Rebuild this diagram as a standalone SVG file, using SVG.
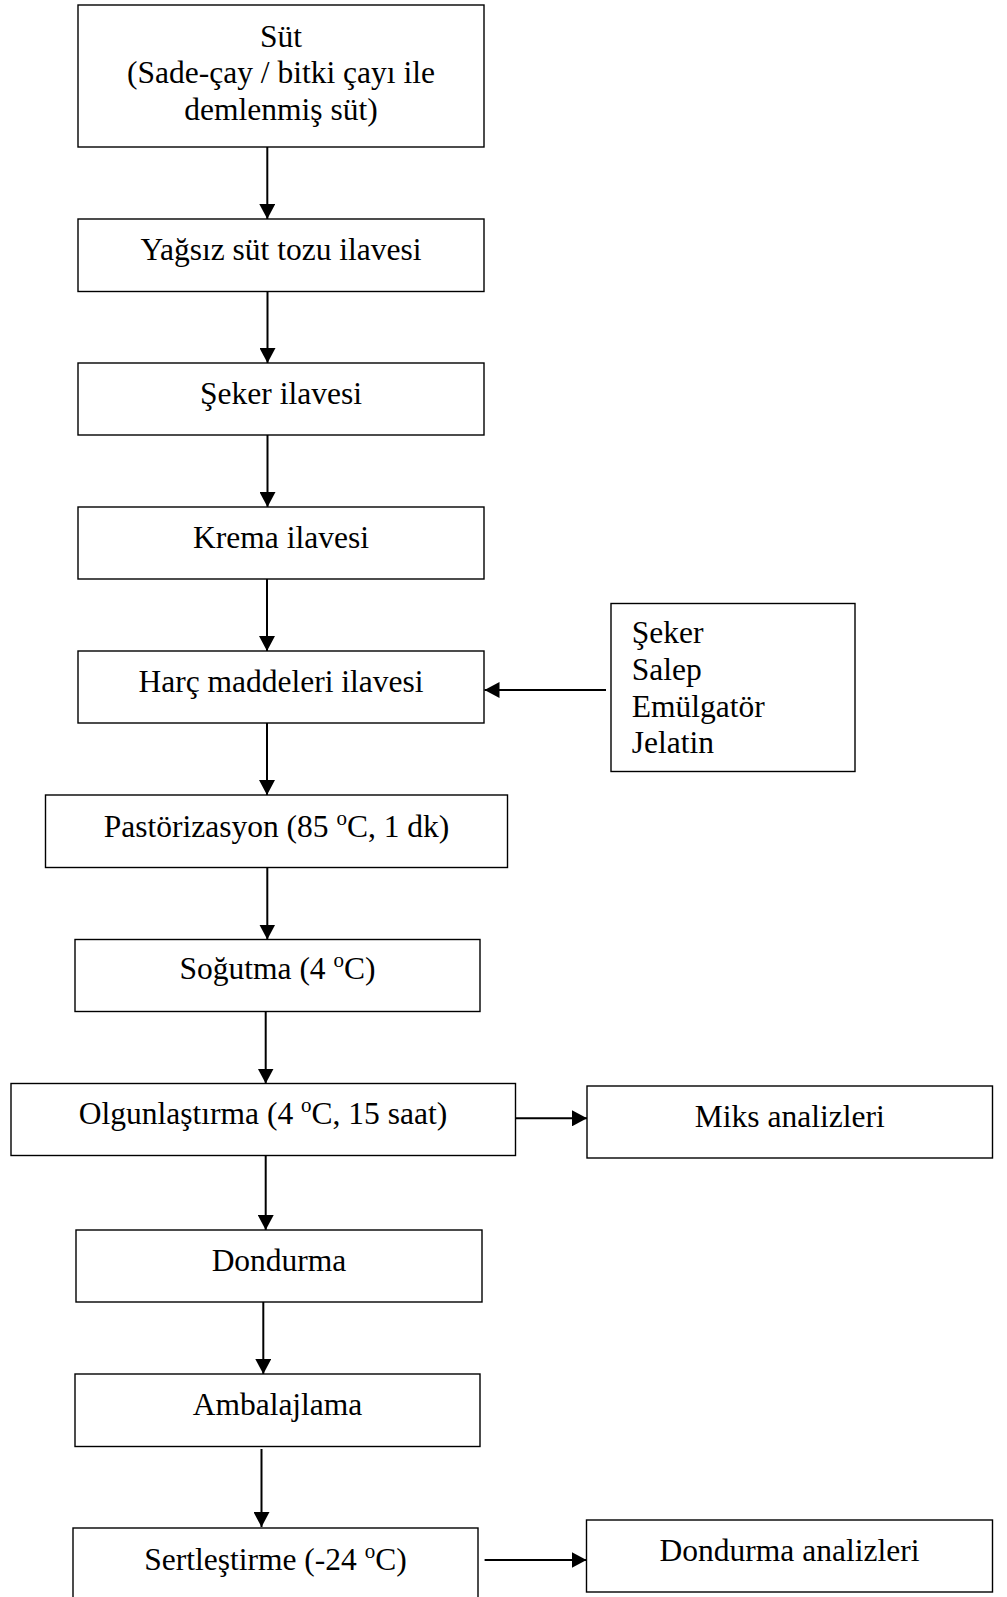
<svg xmlns="http://www.w3.org/2000/svg" width="1007" height="1597" viewBox="0 0 1007 1597">
<style>
.box{fill:#fff;stroke:#000;stroke-width:1.4}
.t{font-family:"Liberation Serif","Times New Roman",serif;font-size:31.5px;fill:#000;text-anchor:middle}
.l{font-family:"Liberation Serif","Times New Roman",serif;font-size:31.5px;fill:#000;text-anchor:start}
.c{stroke:#000;stroke-width:2;fill:none;marker-end:url(#ah)}
</style>
<defs>
<marker id="ah" markerUnits="userSpaceOnUse" markerWidth="16" markerHeight="16" refX="15" refY="8" orient="auto" viewBox="0 0 16 16">
<path d="M0,0 L15,8 L0,16 z" fill="#000"/>
</marker>
</defs>
<rect width="1007" height="1597" fill="#fff"/>
<g id="connectors">
<line class="c" x1="267.3" y1="147" x2="267.3" y2="219"/>
<line class="c" x1="267.5" y1="291.5" x2="267.5" y2="363"/>
<line class="c" x1="267.5" y1="435" x2="267.5" y2="507"/>
<line class="c" x1="267" y1="579" x2="267" y2="651"/>
<line class="c" x1="267" y1="723" x2="267" y2="795"/>
<line class="c" x1="267.3" y1="867.5" x2="267.3" y2="939.5"/>
<line class="c" x1="265.7" y1="1011.5" x2="265.7" y2="1083.5"/>
<line class="c" x1="265.7" y1="1155.5" x2="265.7" y2="1230"/>
<line class="c" x1="263.3" y1="1300" x2="263.3" y2="1374"/>
<line class="c" x1="261.5" y1="1449" x2="261.5" y2="1527"/>
<line class="c" x1="606" y1="690" x2="484.5" y2="690"/>
<line class="c" x1="515.5" y1="1118.3" x2="587" y2="1118.3"/>
<line class="c" x1="484.6" y1="1560" x2="586.5" y2="1560"/>
</g>
<g id="n1"><rect class="box" x="78" y="5" width="406" height="142"/>
<text class="t" x="281" y="46.7">Süt</text>
<text class="t" x="281" y="83.3">(Sade-çay / bitki çayı ile</text>
<text class="t" x="281" y="120">demlenmiş süt)</text></g>
<g id="n2"><rect class="box" x="78" y="219" width="406" height="72.5"/>
<text class="t" x="281" y="260">Yağsız süt tozu ilavesi</text></g>
<g id="n3"><rect class="box" x="78" y="363" width="406" height="72"/>
<text class="t" x="281" y="404">Şeker ilavesi</text></g>
<g id="n4"><rect class="box" x="78" y="507" width="406" height="72"/>
<text class="t" x="281" y="548">Krema ilavesi</text></g>
<g id="n5"><rect class="box" x="78" y="651" width="406" height="72"/>
<text class="t" x="281" y="692">Harç maddeleri ilavesi</text></g>
<g id="n6"><rect class="box" x="45.5" y="795" width="462" height="72.5"/>
<text class="t" x="276.5" y="836.7">Pastörizasyon (85 <tspan dy="-12" font-size="21">o</tspan><tspan dy="12">C, 1 dk)</tspan></text></g>
<g id="n7"><rect class="box" x="75" y="939.5" width="405" height="72"/>
<text class="t" x="277.5" y="979.3">Soğutma (4 <tspan dy="-12" font-size="21">o</tspan><tspan dy="12">C)</tspan></text></g>
<g id="n8"><rect class="box" x="11" y="1083.5" width="504.5" height="72"/>
<text class="t" x="263" y="1124">Olgunlaştırma (4 <tspan dy="-12" font-size="21">o</tspan><tspan dy="12">C, 15 saat)</tspan></text></g>
<g id="n9"><rect class="box" x="76" y="1230" width="406" height="72"/>
<text class="t" x="279" y="1270.7">Dondurma</text></g>
<g id="n10"><rect class="box" x="75" y="1374" width="405" height="72.5"/>
<text class="t" x="277.5" y="1415">Ambalajlama</text></g>
<g id="n11"><rect class="box" x="73" y="1528" width="405" height="76"/>
<text class="t" x="275.5" y="1570">Sertleştirme (-24 <tspan dy="-12" font-size="21">o</tspan><tspan dy="12">C)</tspan></text></g>
<g id="n12"><rect class="box" x="611" y="603.5" width="244" height="168"/>
<text class="l" x="631.7" y="643">Şeker</text>
<text class="l" x="631.7" y="680">Salep</text>
<text class="l" x="631.7" y="716.5">Emülgatör</text>
<text class="l" x="631.7" y="753">Jelatin</text></g>
<g id="n13"><rect class="box" x="587" y="1086" width="405.5" height="72"/>
<text class="t" x="789.75" y="1126.7">Miks analizleri</text></g>
<g id="n14"><rect class="box" x="586.5" y="1520" width="406" height="72"/>
<text class="t" x="789.5" y="1560.7">Dondurma analizleri</text></g>
</svg>
